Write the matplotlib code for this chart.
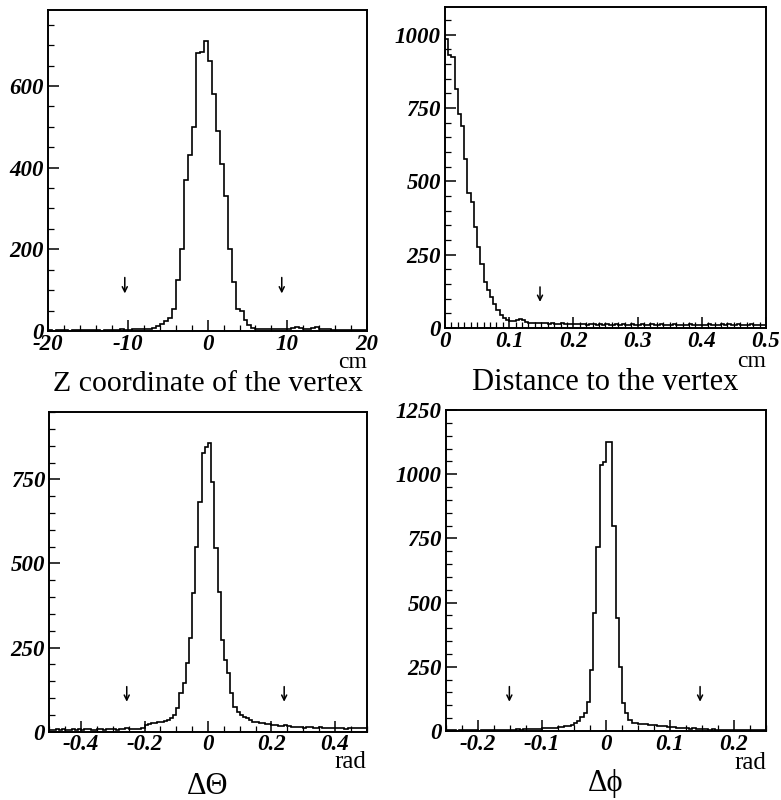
import numpy as np
import matplotlib
matplotlib.use("Agg")
import matplotlib.pyplot as plt
from matplotlib.ticker import MultipleLocator, FuncFormatter

plt.rcParams['axes.unicode_minus'] = False

# ---------------- data ----------------
# Panel 1: Z coordinate of the vertex, 80 bins of 0.5 cm in [-20, 20]
z_range = (-20, 20)
z_counts = [2, 1, 2, 3, 2, 1, 2, 2, 3, 2,
            2, 3, 2, 1, 3, 2, 3, 2, 4, 3,
            3, 4, 5, 4, 6, 6,
            8, 12, 18, 24, 32, 55, 125, 200, 370, 430,
            500, 680, 684, 711, 660, 580, 490, 410, 330, 200,
            120, 55, 48, 28, 15, 8, 6, 5, 5, 4,
            5, 6, 4, 5, 6, 8, 10, 7, 5, 6,
            8, 10, 6, 5, 4, 3, 3, 2, 2, 3,
            2, 3, 2, 2]
z_cuts = [-10.4, 9.3]

# Panel 2: distance to the vertex, 100 bins of 0.005 cm in [0, 0.5]
d_range = (0, 0.5)
d_counts = [985, 930, 925, 816, 731, 688, 577, 460, 430, 345,
            276, 219, 157, 128, 106, 83, 60, 45, 35, 28,
            25, 24, 26, 30, 27, 22, 17, 16, 18, 17,
            16, 17, 15, 18, 14, 15, 16, 13, 14, 15,
            15, 13, 12, 14, 11, 13, 12, 10, 13, 11,
            12, 10, 11, 13, 10, 12, 11, 9, 12, 10,
            11, 13, 10, 9, 12, 11, 10, 12, 9, 11,
            10, 12, 11, 10, 9, 11, 12, 10, 11, 9,
            10, 11, 12, 10, 9, 11, 13, 10, 12, 11,
            10, 12, 9, 11, 10, 12, 11, 10, 9, 11]
d_cuts = [0.148]

# Panel 3: delta theta, 100 bins of 0.01 rad in [-0.5, 0.5]
t_range = (-0.5, 0.5)
t_counts = [6, 5, 7, 6, 8, 5, 6, 7, 5, 8,
            6, 7, 9, 6, 5, 7, 8, 6, 7, 9,
            8, 6, 7, 8, 10, 7, 9, 8, 7, 10,
            20, 22, 25, 27, 28, 30, 33, 36, 42,
            50, 70, 114, 144, 203, 277, 411, 550, 684, 828, 847, 857,
            743, 546, 416, 273, 213, 174, 114, 74, 59, 50, 45, 40, 35, 30, 28,
            27, 25, 24, 22, 20, 20, 18, 17, 19, 16, 15, 14, 13, 15, 12, 14, 13,
            12, 11, 13, 12, 10, 12, 11, 10, 12, 10, 9, 11, 10, 12, 10, 11, 10]
t_cuts = [-0.256, 0.24]

# Panel 4: delta phi, 100 bins of 0.005 rad in [-0.25, 0.25]
p_range = (-0.25, 0.25)
p_counts = [2, 3, 2, 1, 3, 2, 2, 3, 2, 3, 1, 2, 3, 2, 4, 3, 2, 3, 4, 3,
            5, 4, 6, 5, 7, 6, 8, 7, 9, 8,
            10, 12, 11, 13, 12, 15, 16, 18,
            20, 24, 30, 37, 56, 69, 114, 238, 458, 718, 1036, 1049, 1127, 1125,
            799, 439, 251, 108, 69, 43,
            32, 30, 29, 27, 26, 25, 23, 22, 20, 19, 18, 16, 15, 14, 12, 13, 11, 10, 9, 10,
            8, 7, 8, 6, 5, 6, 5, 4, 5, 3, 4, 3, 4, 3, 2, 3, 3, 2, 3, 2, 3, 2]
p_cuts = [-0.151, 0.147]

# ---------------- figure ----------------
W, H = 781, 800
fig = plt.figure(figsize=(W / 100, H / 100), dpi=100)

def rect(l, r, t, b):
    return [l / W, 1 - b / H, (r - l) / W, (b - t) / H]

SERIF = ['Liberation Serif', 'DejaVu Serif']

def fmt(v, pos):
    if abs(v) < 1e-9:
        return '0'
    return f'{v:g}'

def panel(r, counts, xr, ymax, xmaj, xmin, ymaj, ymin, cuts, arrow, unit, title,
          unit_y, title_y, unit_size, title_size):
    ax = fig.add_axes(r)
    edges = np.linspace(xr[0], xr[1], len(counts) + 1)
    ax.stairs(counts, edges, color='black', lw=1.2, baseline=None)
    ax.set_xlim(*xr)
    ax.set_ylim(0, ymax)
    ax.xaxis.set_major_locator(MultipleLocator(xmaj))
    ax.xaxis.set_minor_locator(MultipleLocator(xmin))
    ax.yaxis.set_major_locator(MultipleLocator(ymaj))
    ax.yaxis.set_minor_locator(MultipleLocator(ymin))
    ax.xaxis.set_major_formatter(FuncFormatter(fmt))
    ax.yaxis.set_major_formatter(FuncFormatter(fmt))
    ax.tick_params(which='both', direction='in', top=False, right=False, color='black')
    ax.tick_params(which='major', length=8, width=1.1)
    ax.tick_params(which='minor', length=4.5, width=0.9)
    ax.tick_params(axis='x', which='major', pad=2)
    ax.tick_params(axis='y', which='major', pad=3)
    for lab in ax.get_xticklabels() + ax.get_yticklabels():
        lab.set_fontfamily('Liberation Serif')
        lab.set_fontweight('bold')
        lab.set_fontstyle('italic')
        lab.set_fontsize(16.5)
    for s in ax.spines.values():
        s.set_linewidth(1.4)
    for c in cuts:
        ax.annotate('', xy=(c, arrow[1]), xytext=(c, arrow[0]),
                    arrowprops=dict(arrowstyle='->', lw=1.1, color='black',
                                    shrinkA=0, shrinkB=0, mutation_scale=9))
    ax.text(1.0, unit_y, unit, transform=ax.transAxes, ha='right', va='baseline',
            family=SERIF, size=unit_size)
    ax.text(0.5, title_y, title, transform=ax.transAxes, ha='center', va='center',
            family=SERIF, size=title_size)
    return ax

panel(rect(48.3, 367, 10, 331), z_counts, z_range, 786, 10, 2, 200, 50,
      z_cuts, (131, 92), 'cm', 'Z coordinate of the vertex', -0.115, -0.165, 17, 21.5)
panel(rect(445, 766, 7, 328), d_counts, d_range, 1094, 0.1, 0.01, 250, 50,
      d_cuts, (140, 89), 'cm', 'Distance to the vertex', -0.12, -0.171, 17, 22)
panel(rect(49.3, 366.7, 411.7, 731.7), t_counts, t_range, 951, 0.2, 0.05, 250, 50,
      t_cuts, (134, 89), 'rad', 'ΔΘ', -0.115, -0.17, 18, 22)
panel(rect(446, 766, 410, 731), p_counts, p_range, 1250, 0.1, 0.025, 250, 50,
      p_cuts, (173, 114), 'rad', 'Δϕ', -0.117, -0.162, 18, 22)

fig.savefig('out.png', dpi=100)
